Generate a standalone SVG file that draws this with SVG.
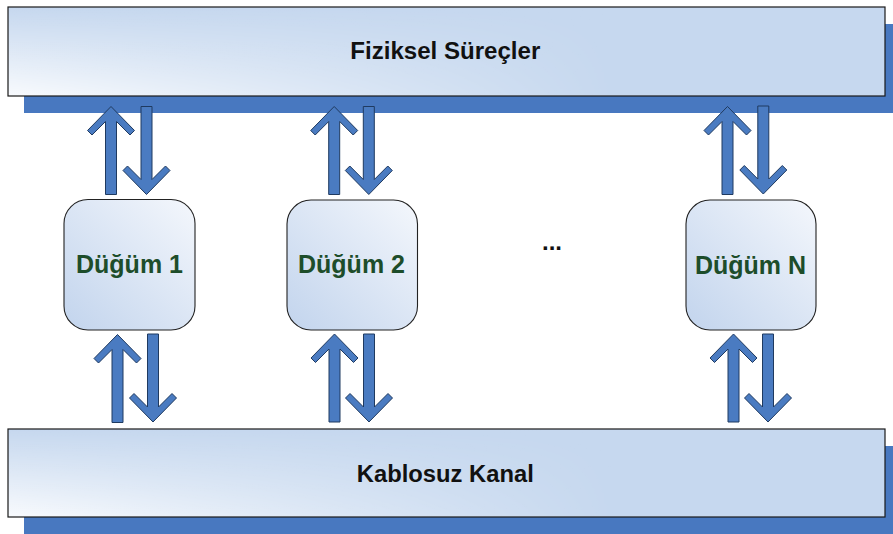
<svg xmlns="http://www.w3.org/2000/svg" xmlns:xlink="http://www.w3.org/1999/xlink" width="893" height="534" viewBox="0 0 893 534">
  <style>
    .shadow { fill: #4878c0; }
    .box { stroke: #1a1a1a; stroke-width: 1.2; }
    .base { fill: #c6d8ef; }
    .node { stroke: #222; stroke-width: 1.1; fill: url(#nodeGrad); }
    .arrow { fill: #4a7bc1; stroke: #1f3a60; stroke-width: 1; stroke-linejoin: miter; }
    .title { font-family: "Liberation Sans", Arial, sans-serif; font-weight: bold; fill: #111; text-anchor: middle; }
    .nlabel { font-family: "Liberation Sans", Arial, sans-serif; font-weight: bold; font-size: 25px; fill: #1d4d2a; text-anchor: middle; }
  </style>
  <defs>
    <linearGradient id="vFade" x1="0" y1="0" x2="0" y2="1">
      <stop offset="0" stop-color="#ffffff" stop-opacity="0"/>
      <stop offset="1" stop-color="#ffffff" stop-opacity="0.88"/>
    </linearGradient>
    <linearGradient id="hMaskGrad" gradientUnits="userSpaceOnUse" x1="8" y1="0" x2="620" y2="0">
      <stop offset="0" stop-color="#ffffff"/>
      <stop offset="0.25" stop-color="#bbbbbb"/>
      <stop offset="1" stop-color="#000000"/>
    </linearGradient>
    <mask id="hMask" maskUnits="userSpaceOnUse" x="0" y="0" width="893" height="534">
      <rect x="0" y="0" width="893" height="534" fill="url(#hMaskGrad)"/>
    </mask>
    <linearGradient id="nodeGrad" x1="1" y1="0" x2="0" y2="1">
      <stop offset="0" stop-color="#f4f7fc"/>
      <stop offset="1" stop-color="#c2d4ed"/>
    </linearGradient>
    <path id="upArrow" class="arrow" d="M0,0 L23.5,24 L19,28.5 L5.5,15 L5.5,88 L-5.5,88 L-5.5,15 L-19,28.5 L-23.5,24 Z"/>
    <path id="downArrow" class="arrow" d="M0,88 L23.5,64 L19,59.5 L5.5,73 L5.5,0 L-5.5,0 L-5.5,73 L-19,59.5 L-23.5,64 Z"/>
  </defs>

  <rect width="893" height="534" fill="#ffffff"/>

  <g id="fiziksel-surecler">
    <rect class="shadow" x="24" y="24" width="869" height="89"/>
    <rect class="base" x="8" y="7" width="877" height="89"/>
    <rect x="8" y="7" width="877" height="89" fill="url(#vFade)" mask="url(#hMask)"/>
    <rect class="box" x="8" y="7" width="877" height="89" fill="none"/>
    <text class="title" x="445.3" y="59.3" font-size="23" textLength="190" lengthAdjust="spacingAndGlyphs">Fiziksel Süreçler</text>
  </g>

  <g id="kablosuz-kanal">
    <rect class="shadow" x="24" y="446" width="869" height="88"/>
    <rect class="base" x="8" y="429" width="877" height="88"/>
    <rect x="8" y="429" width="877" height="88" fill="url(#vFade)" mask="url(#hMask)"/>
    <rect class="box" x="8" y="429" width="877" height="88" fill="none"/>
    <text class="title" x="445.3" y="481.7" font-size="23" textLength="177" lengthAdjust="spacingAndGlyphs">Kablosuz Kanal</text>
  </g>

  <g id="connectors">
    <use xlink:href="#upArrow" x="111" y="106.5"/>
    <use xlink:href="#downArrow" x="146.5" y="106.5"/>
    <use xlink:href="#upArrow" x="117.5" y="334.5"/>
    <use xlink:href="#downArrow" x="153" y="334"/>

    <use xlink:href="#upArrow" x="334.2" y="106.5"/>
    <use xlink:href="#downArrow" x="368.8" y="106.5"/>
    <use xlink:href="#upArrow" x="334.5" y="334"/>
    <use xlink:href="#downArrow" x="369" y="334"/>

    <use xlink:href="#upArrow" x="727.5" y="106.5"/>
    <use xlink:href="#downArrow" x="763.3" y="106"/>
    <use xlink:href="#upArrow" x="733.5" y="334"/>
    <use xlink:href="#downArrow" x="768" y="334"/>
  </g>

  <g id="node1">
    <rect class="node" x="64" y="199.5" width="131" height="130.5" rx="24" ry="24"/>
    <text class="nlabel" x="129.5" y="272.7">Düğüm 1</text>
  </g>

  <g id="node2">
    <rect class="node" x="287" y="200" width="130.5" height="130" rx="24" ry="24"/>
    <text class="nlabel" x="351.5" y="273.3">Düğüm 2</text>
  </g>

  <g id="ellipsis">
    <text class="title" x="552" y="250" font-size="24">...</text>
  </g>

  <g id="nodeN">
    <rect class="node" x="686" y="200" width="130" height="130" rx="24" ry="24"/>
    <text class="nlabel" x="750.5" y="274">Düğüm N</text>
  </g>
</svg>
